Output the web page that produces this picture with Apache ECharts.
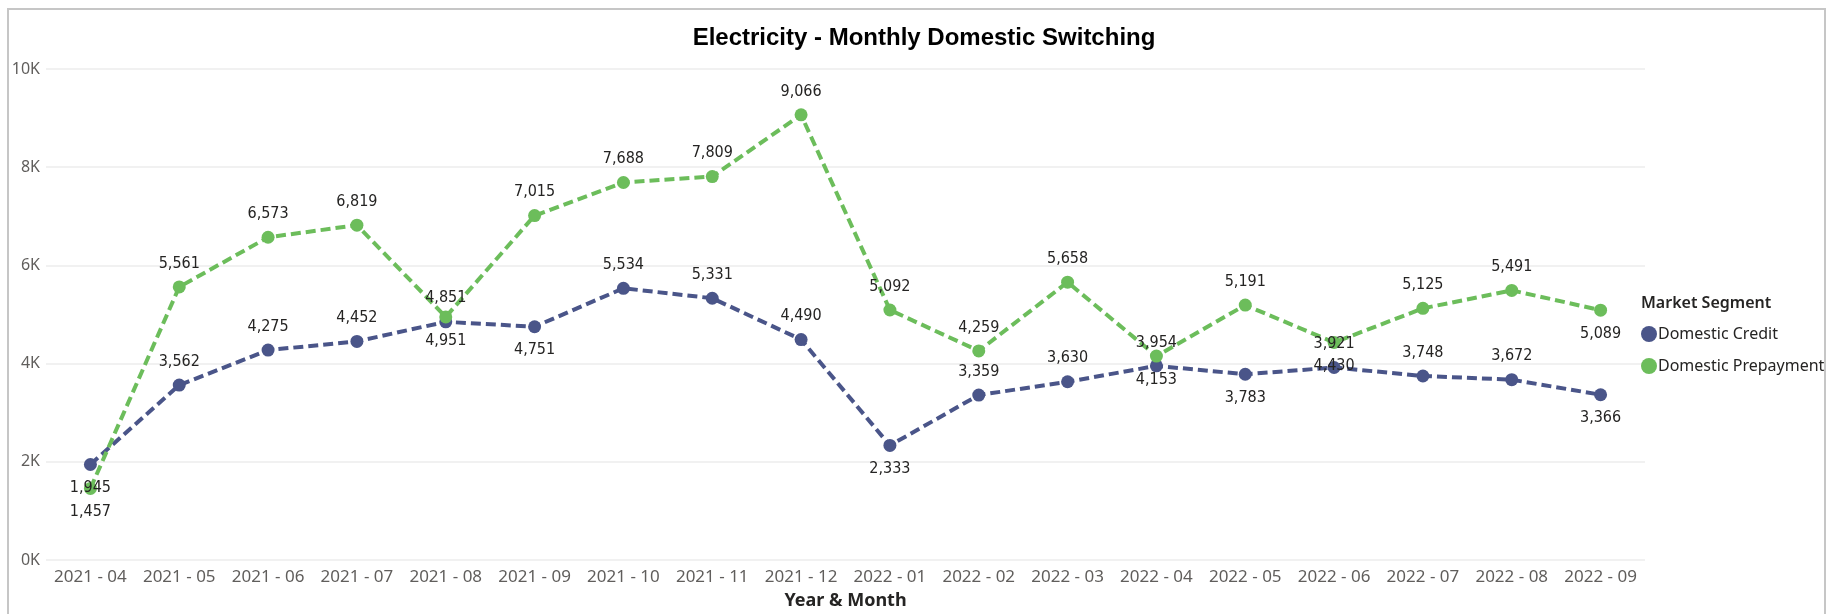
<!DOCTYPE html>
<html>
<head>
<meta charset="utf-8">
<title>Electricity - Monthly Domestic Switching</title>
<script src="https://cdn.jsdelivr.net/npm/echarts@6/dist/echarts.min.js"></script>
<style>
  html, body { margin: 0; padding: 0; background: #ffffff; }
  #chart { width: 1834px; height: 614px; }
</style>
</head>
<body>
<div id="chart"></div>
<script>
// Monthly domestic electricity switches by market segment
const months = [
  '2021 - 04', '2021 - 05', '2021 - 06', '2021 - 07', '2021 - 08', '2021 - 09',
  '2021 - 10', '2021 - 11', '2021 - 12', '2022 - 01', '2022 - 02', '2022 - 03',
  '2022 - 04', '2022 - 05', '2022 - 06', '2022 - 07', '2022 - 08', '2022 - 09'
];
const domesticCredit = [
  1945, 3562, 4275, 4452, 4851, 4751, 5534, 5331, 4490,
  2333, 3359, 3630, 3954, 3783, 3921, 3748, 3672, 3366
];
const domesticPrepayment = [
  1457, 5561, 6573, 6819, 4951, 7015, 7688, 7809, 9066,
  5092, 4259, 5658, 4153, 5191, 4430, 5125, 5491, 5089
];
const yTicks = [0, 2000, 4000, 6000, 8000, 10000];

// Months whose value label sits under the point instead of above it
const creditBelow = [0, 5, 9, 13, 17];
const prepaymentBelow = [0, 4, 12, 14, 17];

const BLUE = '#4A5589';
const GREEN = '#6CBD5B';
const LABEL_FONT = '"DejaVu Sans Condensed", "DejaVu Sans", sans-serif';
const UI_FONT = '"Noto Sans", "Open Sans", sans-serif';

function withLabels(values, below) {
  return values.map((v, i) => ({
    value: v,
    label: { position: below.includes(i) ? 'bottom' : 'top' }
  }));
}

function lineSeries(name, values, below, color) {
  return {
    name: name,
    type: 'line',
    data: withLabels(values, below),
    symbol: 'circle',
    symbolSize: 13,
    itemStyle: { color: color },
    lineStyle: { color: color, width: 4, type: [10, 5] },
    label: {
      show: true,
      distance: 9,
      color: '#252423',
      fontFamily: LABEL_FONT,
      fontSize: 16,
      formatter: p => p.value.toLocaleString('en-US')
    },
    emphasis: { disabled: true },
    z: 3
  };
}

const chart = echarts.init(document.getElementById('chart'), null, { renderer: 'canvas' });

chart.setOption({
  animation: false,
  backgroundColor: '#ffffff',
  graphic: [{
    type: 'rect',
    shape: { x: 8, y: 9, width: 1817, height: 610 },
    style: { fill: 'none', stroke: '#c6c6c6', lineWidth: 2 },
    silent: true,
    z: -10
  }],
  title: [{
    text: 'Electricity - Monthly Domestic Switching',
    left: 919,
    textAlign: 'center',
    top: 21,
    textStyle: {
      fontFamily: '"Liberation Sans", Arial, sans-serif',
      fontWeight: 'bold',
      fontSize: 24,
      color: '#000000'
    }
  }, {
    text: 'Market Segment',
    left: 1636,
    top: 290,
    textStyle: {
      fontFamily: UI_FONT,
      fontWeight: 600,
      fontSize: 16,
      color: '#252423'
    }
  }],
  legend: {
    orient: 'vertical',
    left: 1636,
    top: 321,
    itemGap: 16,
    itemWidth: 16,
    itemHeight: 16,
    icon: 'circle',
    itemStyle: { borderWidth: 0 },
    textStyle: { fontFamily: UI_FONT, fontSize: 16, color: '#252423', padding: [0, 0, 0, -4] },
    data: ['Domestic Credit', 'Domestic Prepayment']
  },
  grid: {
    left: 46, right: 189, top: 69, bottom: 54,
    containLabel: false,
    outerBoundsMode: 'none'
  },
  xAxis: {
    type: 'category',
    data: months,
    boundaryGap: true,
    axisLine: { show: false },
    axisTick: { show: false },
    axisLabel: {
      interval: 0,
      margin: 9,
      color: '#605E5C',
      fontFamily: UI_FONT,
      fontSize: 17
    },
    name: 'Year & Month',
    nameLocation: 'middle',
    nameGap: 32,
    nameTextStyle: {
      fontFamily: UI_FONT,
      fontWeight: 'bold',
      fontSize: 18,
      color: '#252423'
    }
  },
  yAxis: {
    type: 'value',
    min: yTicks[0],
    max: yTicks[yTicks.length - 1],
    interval: yTicks[1] - yTicks[0],
    axisLine: { show: false },
    axisTick: { show: false },
    splitLine: { lineStyle: { color: '#EDEDED', width: 1.5 } },
    axisLabel: {
      margin: 6,
      color: '#605E5C',
      fontFamily: UI_FONT,
      fontSize: 16,
      formatter: v => (v / 1000) + 'K'
    }
  },
  series: [
    lineSeries('Domestic Credit', domesticCredit, creditBelow, BLUE),
    lineSeries('Domestic Prepayment', domesticPrepayment, prepaymentBelow, GREEN)
  ]
});
</script>
</body>
</html>
